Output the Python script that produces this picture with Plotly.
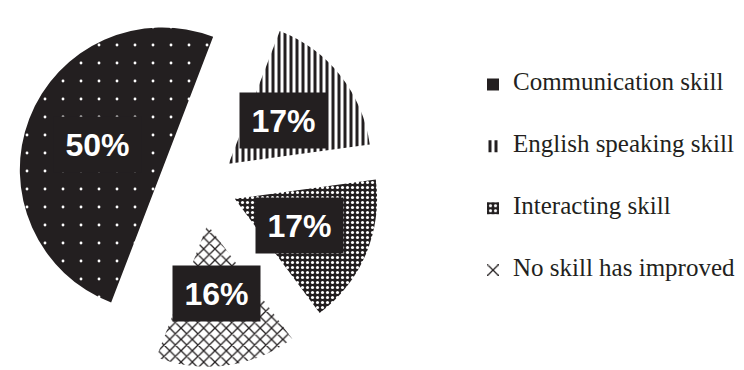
import math
import plotly.graph_objects as go

# ---- data ----
categories = ["Communication skill", "English speaking skill", "Interacting skill", "No skill has improved"]
values = [50, 17, 17, 16]

# ---- style ----
INK = "#231f20"
pulls = [0.30, 0.24, 0.25, 0.28]
pattern_shapes = [".", "|", ".", "x"]
pattern_fg = ["white", INK, "white", INK]
pattern_bg = [INK, "white", INK, "white"]
pattern_size = [18, 6, 5, 8]
pattern_solidity = [0.02, 0.5, 0.3, 0.3]

W, H = 744, 370
dom_x = [0.0, 0.543]
dom_y = [0.0, 1.0]
rotation = 201

legend_labels = [
    "<br><span style='font-size:25px'>%s</span><br>" % c for c in categories
]

fig = go.Figure(
    go.Pie(
        labels=legend_labels,
        values=values,
        sort=False,
        direction="clockwise",
        rotation=rotation,
        pull=pulls,
        textinfo="none",
        hoverinfo="skip",
        domain=dict(x=dom_x, y=dom_y),
        marker=dict(
            colors=pattern_bg,
            line=dict(width=0),
            pattern=dict(
                shape=pattern_shapes,
                fgcolor=pattern_fg,
                bgcolor=pattern_bg,
                size=pattern_size,
                solidity=pattern_solidity,
                fillmode="replace",
            ),
        ),
    )
)

# ---- percentage labels in black boxes, placed from the pie geometry ----
boxW = W * (dom_x[1] - dom_x[0])
boxH = H * (dom_y[1] - dom_y[0])
r = min(boxW, boxH) / (2 + 2 * max(pulls))
cx = W * (dom_x[0] + dom_x[1]) / 2
cy = H * (1 - dom_y[0]) - boxH / 2
total = sum(values)
cum = 0
annotations = []
for v, p in zip(values, pulls):
    mid = math.radians(rotation + (cum + v / 2) / total * 360)
    cum += v
    d = p * r + 0.49 * r
    px = cx + d * math.sin(mid)
    py = cy - d * math.cos(mid)
    annotations.append(
        dict(
            x=px / W,
            y=1 - py / H,
            xref="paper",
            yref="paper",
            text="<b>%d%%</b>" % round(v / total * 100),
            showarrow=False,
            xanchor="center",
            yanchor="middle",
            font=dict(size=32, color="white",
                      family="Liberation Sans, Arial, sans-serif"),
            bgcolor=INK,
            width=87,
            height=55,
            borderpad=0,
        )
    )

fig.update_layout(
    width=W,
    height=H,
    margin=dict(l=0, r=0, t=0, b=0),
    paper_bgcolor="white",
    plot_bgcolor="white",
    showlegend=True,
    legend=dict(
        x=473 / W,
        xanchor="left",
        y=1 - 177.5 / H,
        yanchor="middle",
        font=dict(size=15.1, family="Liberation Serif, Times New Roman, serif", color=INK),
        bgcolor="rgba(0,0,0,0)",
    ),
    annotations=annotations,
)

fig.write_html("out.html")
